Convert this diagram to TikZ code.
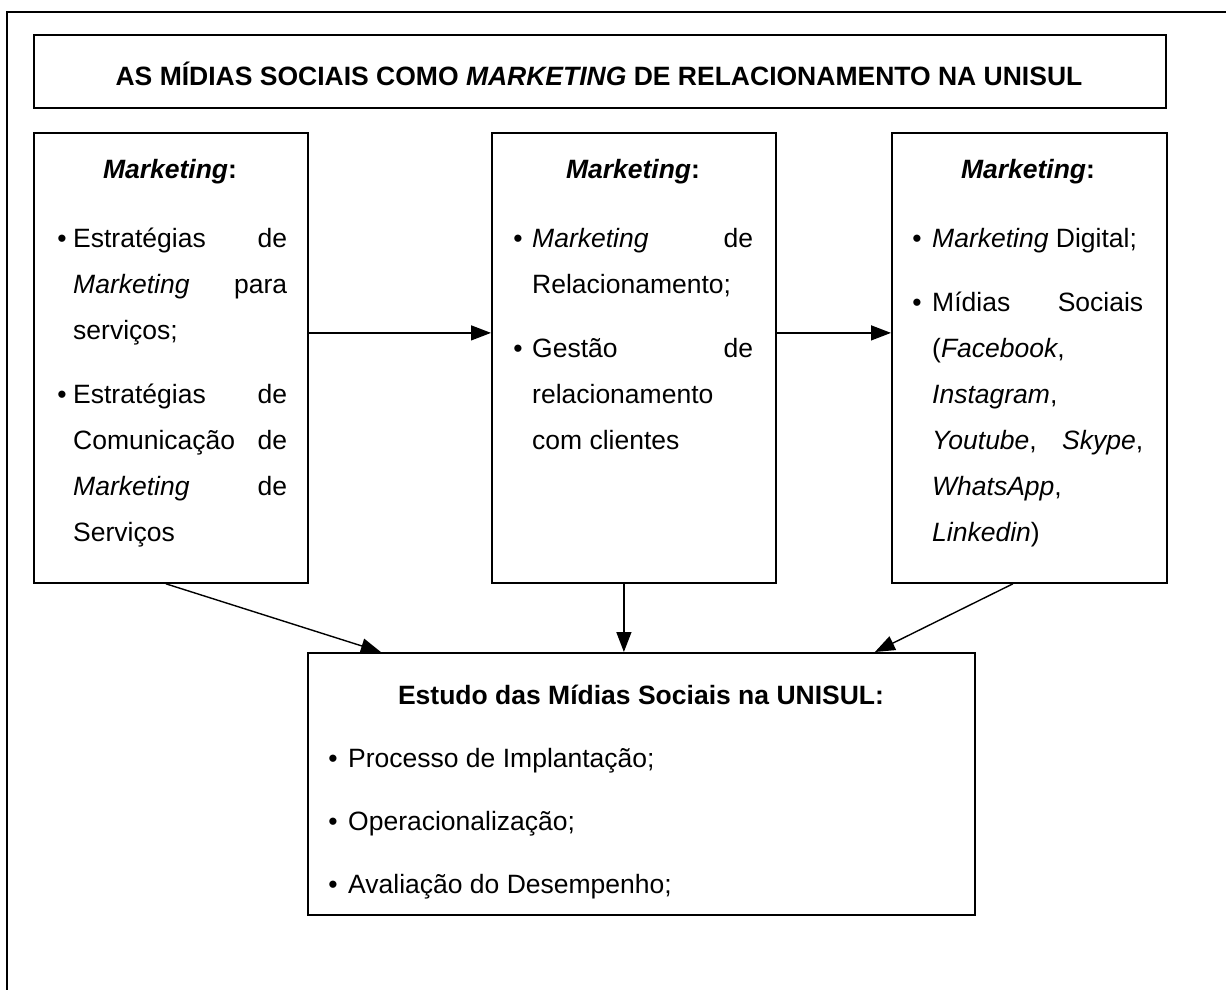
\documentclass[tikz,border=0pt]{standalone}
\usepackage{fontspec}
\setmainfont{Liberation Sans}
\usetikzlibrary{arrows.meta}
\begin{document}
\begin{tikzpicture}[x=1pt,y=-1pt,
  box/.style={draw,line width=1.8pt,inner sep=0pt,anchor=north west},
  arr/.style={line width=1.4pt,-{Triangle[length=20pt,width=15pt]}},
  txt/.style={anchor=base west,inner sep=0pt},
  ctr/.style={anchor=base,inner sep=0pt},
  bul/.style={anchor=base,inner sep=0pt},
  font=\fontsize{26.5}{30}\selectfont]
\useasboundingbox (0,0) rectangle (1226,990);

% page frame (open at the right and bottom)
\draw[line width=2.3pt] (7,990) -- (7,12) -- (1226,12);

% title
\node[box,minimum width=1132pt,minimum height=73pt] (title) at (33,34) {};
\node[ctr] (titletext) at (599,85) {\textbf{AS MÍDIAS SOCIAIS COMO \textit{MARKETING} DE RELACIONAMENTO NA UNISUL}};

% three upper boxes
\node[box,minimum width=274pt,minimum height=450pt] (bl) at (33,132) {};
\node[box,minimum width=284pt,minimum height=450pt] (bm) at (491,132) {};
\node[box,minimum width=275pt,minimum height=450pt] (br) at (891,132) {};

% lower box
\node[box,minimum width=667pt,minimum height=262pt] (bb) at (307,652) {};

% left box text
\node[ctr] (hl) at (170,178) {\textbf{\textit{Marketing}:}};
\node[bul] (l1b) at (62,247) {•};
\node[txt] (l1a) at (73,247) {\makebox[214pt][s]{Estratégias de}};
\node[txt] (l1c) at (73,293) {\makebox[214pt][s]{\textit{Marketing} para}};
\node[txt] (l1d) at (73,339) {serviços;};
\node[bul] (l2b) at (62,403) {•};
\node[txt] (l2a) at (73,403) {\makebox[214pt][s]{Estratégias de}};
\node[txt] (l2c) at (73,449) {\makebox[214pt][s]{Comunicação de}};
\node[txt] (l2d) at (73,495) {\makebox[214pt][s]{\textit{Marketing} de}};
\node[txt] (l2e) at (73,541) {Serviços};

% middle box text
\node[ctr] (hm) at (633,178) {\textbf{\textit{Marketing}:}};
\node[bul] (m1b) at (518,247) {•};
\node[txt] (m1a) at (532,247) {\makebox[221pt][s]{\textit{Marketing} de}};
\node[txt] (m1c) at (532,293) {Relacionamento;};
\node[bul] (m2b) at (518,357) {•};
\node[txt] (m2a) at (532,357) {\makebox[221pt][s]{Gestão de}};
\node[txt] (m2c) at (532,403) {relacionamento};
\node[txt] (m2d) at (532,449) {com clientes};

% right box text
\node[ctr] (hr) at (1028,178) {\textbf{\textit{Marketing}:}};
\node[bul] (r1b) at (917,247) {•};
\node[txt] (r1a) at (932,247) {\textit{Marketing} Digital;};
\node[bul] (r2b) at (917,311) {•};
\node[txt] (r2a) at (932,311) {\makebox[211pt][s]{Mídias Sociais}};
\node[txt] (r2c) at (932,357) {(\textit{Facebook},};
\node[txt] (r2d) at (932,403) {\textit{Instagram},};
\node[txt] (r2e) at (932,449) {\makebox[211pt][s]{\textit{Youtube}, \textit{Skype},}};
\node[txt] (r2f) at (932,495) {\textit{WhatsApp},};
\node[txt] (r2g) at (932,541) {\textit{Linkedin})};

% lower box text
\node[ctr] (hb) at (641,704) {\textbf{Estudo das Mídias Sociais na UNISUL:}};
\node[bul] (b1b) at (333,767) {•};
\node[txt] (b1a) at (348,767) {Processo de Implantação;};
\node[bul] (b2b) at (333,830) {•};
\node[txt] (b2a) at (348,830) {Operacionalização;};
\node[bul] (b3b) at (333,893) {•};
\node[txt] (b3a) at (348,893) {Avaliação do Desempenho;};

% connectors
\draw[arr] ([yshift=25pt]bl.east) -- ([yshift=25pt]bm.west);
\draw[arr] ([yshift=25pt]bm.east) -- ([yshift=25pt]br.west);
\draw[arr] ([xshift=-5pt]bl.south) -- ([xshift=-260.5pt]bb.north);
\draw[arr] ([xshift=-10pt]bm.south) -- ([xshift=-17.5pt]bb.north);
\draw[arr] ([xshift=-16.5pt]br.south) -- ([xshift=233.5pt]bb.north);
\end{tikzpicture}
\end{document}
